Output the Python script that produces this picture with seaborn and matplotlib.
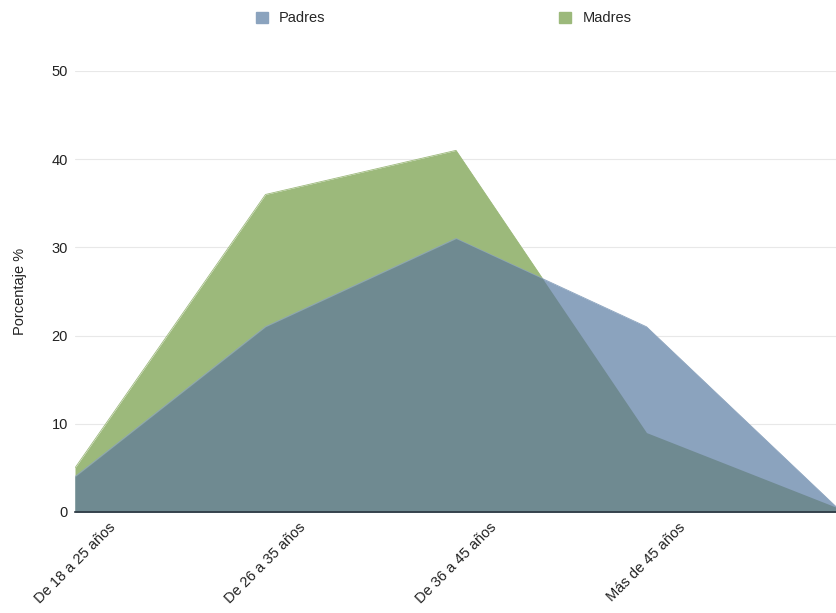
import numpy as np
import pandas as pd
import matplotlib
matplotlib.use("Agg")
import matplotlib.pyplot as plt
from matplotlib.patches import Patch
import seaborn as sns

# datos
categorias = ["De 18 a 25 años", "De 26 a 35 años", "De 36 a 45 años", "Más de 45 años", ""]
padres = [4, 21, 31, 21, 0.5]
madres = [5, 36, 41, 9, 0.5]

color_padres = "#8ba3be"
color_madres = "#9cb97b"
color_comun = "#6f8a91"

sns.set_theme(style="whitegrid")
plt.rcParams['font.family'] = ['Liberation Sans', 'DejaVu Sans']

df = pd.DataFrame({"pos": range(len(categorias)), "Padres": padres, "Madres": madres})

fig = plt.figure(figsize=(8.37, 6.13), dpi=100)
ax = fig.add_axes([0.0896, 0.1648, 0.9104, 0.7194])

x = df["pos"].to_numpy(dtype=float)
p = df["Padres"].to_numpy(dtype=float)
m = df["Madres"].to_numpy(dtype=float)

# área común (mínimo de las dos series)
xs = np.linspace(x.min(), x.max(), 2001)
ps = np.interp(xs, x, p)
ms = np.interp(xs, x, m)

ax.fill_between(x, 0, m, color=color_madres, linewidth=0, zorder=2)
ax.fill_between(x, 0, p, color=color_padres, linewidth=0, zorder=3)
ax.fill_between(xs, 0, np.minimum(ps, ms), color=color_comun, linewidth=0, zorder=4)

sns.lineplot(data=df, x="pos", y="Madres", ax=ax, color=color_madres, linewidth=0.6, zorder=2)
sns.lineplot(data=df, x="pos", y="Padres", ax=ax, color=color_padres, linewidth=0.6, zorder=3)

ax.set_xlim(0, len(categorias) - 1)
ax.set_ylim(0, 50)
ax.set_yticks([0, 10, 20, 30, 40, 50])
ax.set_xticks(range(len(categorias) - 1))
ax.set_xticklabels(categorias[:-1], rotation=45, ha="center", va="top", fontsize=10.5, color="#222222")
ax.tick_params(axis="y", labelsize=10.5, labelcolor="#222222", pad=5, length=0)
ax.tick_params(axis="x", length=0, pad=6)

ax.grid(axis="x", visible=False)
ax.grid(axis="y", color="#e8e8e8", linewidth=0.8)
ax.set_axisbelow(True)
for s in ["left", "right", "top"]:
    ax.spines[s].set_visible(False)
ax.spines["bottom"].set_color("#2a3540")
ax.spines["bottom"].set_linewidth(1.2)
ax.spines["bottom"].set_zorder(6)

ax.set_xlabel("")
ax.set_ylabel("Porcentaje %", fontsize=10.5, color="#222222", labelpad=18)

handles = [Patch(color=color_padres, label="Padres"), Patch(color=color_madres, label="Madres")]
fig.legend(handles=handles, loc="upper center", bbox_to_anchor=(0.53, 1.003), ncol=2,
           frameon=False, fontsize=10.5, handlelength=0.8, handleheight=0.8,
           columnspacing=16, handletextpad=0.8)

fig.savefig("out.png", dpi=100)
